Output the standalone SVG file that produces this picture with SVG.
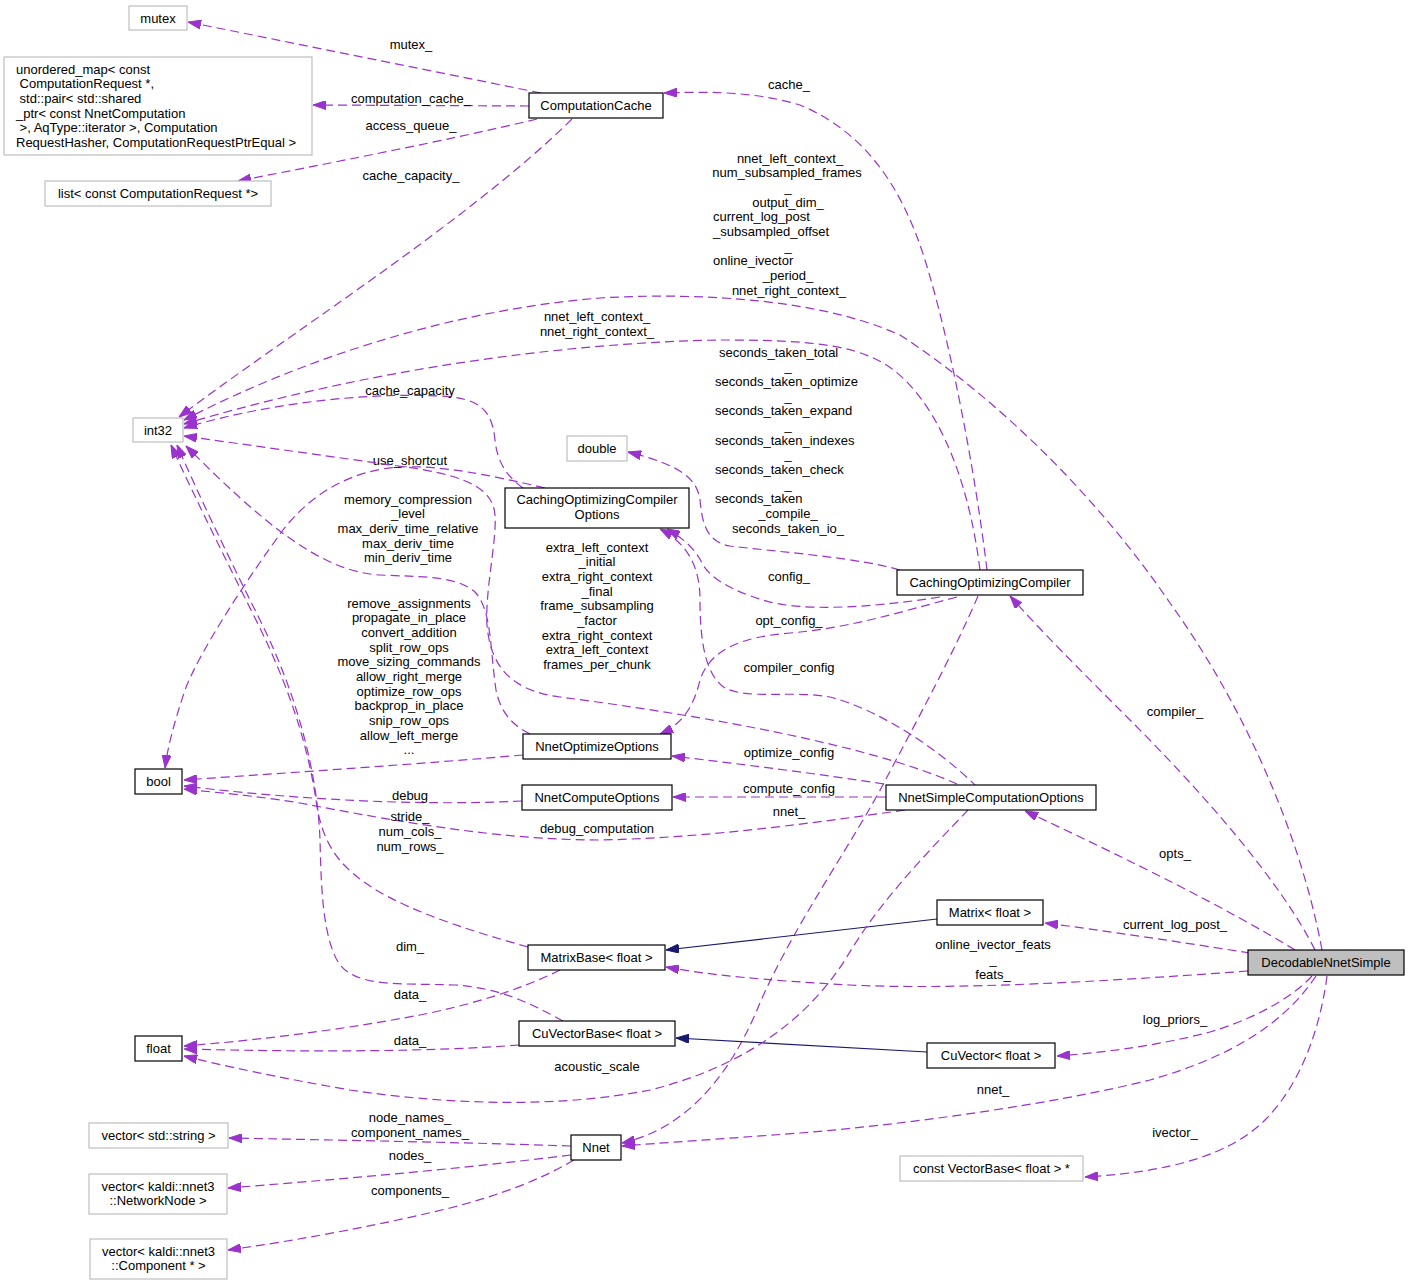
<svg xmlns="http://www.w3.org/2000/svg" width="1409" height="1286" viewBox="0 0 1409 1286">
<style>
text{font-family:"Liberation Sans",Arial,Helvetica,sans-serif;font-size:13px;fill:#000}
.c{text-anchor:middle}
.s{text-anchor:start}
.e{fill:none;stroke:#9a32cd;stroke-width:1.2;stroke-dasharray:9,5;marker-end:url(#pa)}
.i{fill:none;stroke:#191970;stroke-width:1.2;marker-end:url(#na)}
.nb{fill:#fff;stroke:#000;stroke-width:1.2}
.ng{fill:#fff;stroke:#bfbfbf;stroke-width:1.2}
.nd{fill:#bfbfbf;stroke:#000;stroke-width:1.2}
</style>
<defs>
<marker id="pa" viewBox="0 0 13 9" refX="13" refY="4.5" markerWidth="13" markerHeight="9" markerUnits="userSpaceOnUse" orient="auto"><path d="M0,0 L13,4.5 L0,9 z" fill="#9a32cd" stroke="#9a32cd"/></marker>
<marker id="na" viewBox="0 0 13 9" refX="13" refY="4.5" markerWidth="13" markerHeight="9" markerUnits="userSpaceOnUse" orient="auto"><path d="M0,0 L13,4.5 L0,9 z" fill="#191970" stroke="#191970"/></marker>
</defs>
<rect width="1409" height="1286" fill="#fff"/>
<g id="connectors">
<g><path class="e" d="M541,93 L188,22"/><text class="c" x="411" y="48.5">mutex_</text></g>
<g><path class="e" d="M529,106 L313,105"/><text class="c" x="411" y="102.5">computation_cache_</text></g>
<g><path class="e" d="M537,119 C450,140 320,165 238,181"/><text class="c" x="411" y="129.5">access_queue_</text></g>
<g><path class="e" d="M572,119 C470,220 280,340 179,417"/><text class="c" x="411" y="179.5">cache_capacity_</text></g>
<g><path class="e" d="M987,570 C975,470 950,340 925,260 C900,180 860,130 800,105 C750,90 700,92 664,93"/><text class="c" x="789" y="88.5">cache_</text></g>
<g><path class="e" d="M1322,950 C1300,830 1240,700 1170,603 C1100,500 1000,400 900,335 C800,290 650,295 600,298 C450,310 300,360 184,420"/>
<text class="c" x="790" y="162.5">nnet_left_context_</text>
<text class="c" x="787" y="177.2">num_subsampled_frames</text>
<text class="c" x="788" y="191.8">_</text>
<text class="c" x="788" y="206.5">output_dim_</text>
<text class="s" x="713" y="221.2">current_log_post</text>
<text class="s" x="713" y="235.8">_subsampled_offset</text>
<text class="c" x="788" y="250.5">_</text>
<text class="s" x="713" y="265.2">online_ivector</text>
<text class="c" x="788" y="279.8">_period_</text>
<text class="c" x="789" y="294.5">nnet_right_context_</text></g>
<g><path class="e" d="M980,570 C970,490 945,420 905,380 C870,345 820,340 720,340 C600,342 400,360 184,424"/><text class="c" x="597" y="320.5">nnet_left_context_</text><text class="c" x="597" y="335.5">nnet_right_context_</text></g>
<g><path class="e" d="M900,570 C860,558 780,552 730,546 C705,542 702,520 700,500 C697,478 680,465 628,452"/>
<text class="s" x="719" y="356.5">seconds_taken_total</text>
<text class="c" x="788" y="371.2">_</text>
<text class="s" x="715" y="385.8">seconds_taken_optimize</text>
<text class="c" x="788" y="400.5">_</text>
<text class="s" x="715" y="415.2">seconds_taken_expand</text>
<text class="c" x="788" y="429.8">_</text>
<text class="s" x="715" y="444.5">seconds_taken_indexes</text>
<text class="c" x="788" y="459.2">_</text>
<text class="s" x="715" y="473.8">seconds_taken_check</text>
<text class="c" x="788" y="488.5">_</text>
<text class="s" x="715" y="503.2">seconds_taken</text>
<text class="c" x="788" y="517.8">_compile_</text>
<text class="c" x="788" y="532.5">seconds_taken_io_</text></g>
<g><path class="e" d="M523,488 C505,475 497,460 495,440 C492,410 480,398 440,396 C360,392 260,405 184,428"/><text class="c" x="410" y="394.5">cache_capacity</text></g>
<g><path class="e" d="M545,488 C490,475 440,465 400,467 C350,470 310,495 283,530 C250,575 200,650 185,690 C175,720 168,745 165,768"/><text class="c" x="410" y="464.5">use_shortcut</text></g>
<g><path class="e" d="M957,784 C870,745 700,715 560,697 C505,690 490,660 487,625 C485,590 497,540 495,515 C493,490 470,478 420,469 L184,436"/>
<text class="c" x="597" y="551.5">extra_left_context</text>
<text class="c" x="597" y="566.2">_initial</text>
<text class="c" x="597" y="580.8">extra_right_context</text>
<text class="c" x="597" y="595.5">_final</text>
<text class="c" x="597" y="610.2">frame_subsampling</text>
<text class="c" x="597" y="624.8">_factor</text>
<text class="c" x="597" y="639.5">extra_right_context</text>
<text class="c" x="597" y="654.2">extra_left_context</text>
<text class="c" x="597" y="668.8">frames_per_chunk</text></g>
<g><path class="e" d="M530,734 C510,724 500,710 496,690 C490,650 492,610 475,592 C455,575 420,577 380,575 C320,572 260,520 186,446"/>
<text class="c" x="408" y="503.5">memory_compression</text>
<text class="c" x="408" y="518.2">_level</text>
<text class="c" x="408" y="532.8">max_deriv_time_relative</text>
<text class="c" x="408" y="547.5">max_deriv_time</text>
<text class="c" x="408" y="562.2">min_deriv_time</text></g>
<g><path class="e" d="M940,597 C870,608 800,612 763,600 C730,590 710,578 702,563 C695,548 680,536 667,529"/><text class="c" x="789" y="580.5">config_</text></g>
<g><path class="e" d="M957,597 C900,612 850,628 790,633 C740,637 710,650 700,680 C693,710 680,725 660,734"/><text class="c" x="789" y="624.5">opt_config_</text></g>
<g><path class="e" d="M977,787 C940,750 880,710 830,697 C790,690 750,700 725,688 C705,675 700,640 700,600 C700,570 690,545 660,529"/><text class="c" x="789" y="671.5">compiler_config</text></g>
<g><path class="e" d="M1315,950 C1280,880 1200,790 1130,720 C1080,670 1040,630 1010,596"/><text class="c" x="1175" y="715.5">compiler_</text></g>
<g><path class="e" d="M523,755 C420,764 300,772 184,780"/>
<text class="c" x="409" y="607.5">remove_assignments</text>
<text class="c" x="409" y="622.2">propagate_in_place</text>
<text class="c" x="409" y="636.8">convert_addition</text>
<text class="c" x="409" y="651.5">split_row_ops</text>
<text class="c" x="409" y="666.2">move_sizing_commands</text>
<text class="c" x="409" y="680.8">allow_right_merge</text>
<text class="c" x="409" y="695.5">optimize_row_ops</text>
<text class="c" x="409" y="710.2">backprop_in_place</text>
<text class="c" x="409" y="724.8">snip_row_ops</text>
<text class="c" x="409" y="739.5">allow_left_merge</text>
<text class="c" x="409" y="754.2">...</text></g>
<g><path class="e" d="M884,784 C820,774 740,764 672,756"/><text class="c" x="789" y="756.5">optimize_config</text></g>
<g><path class="e" d="M886,797 L673,797"/><text class="c" x="789" y="792.5">compute_config</text></g>
<g><path class="e" d="M522,801 C420,806 300,800 184,786"/><text class="c" x="410" y="799.5">debug</text></g>
<g><path class="e" d="M978,596 C955,650 920,715 887,777 C855,840 790,930 757,1010 C725,1085 680,1130 622,1143"/><text class="c" x="789" y="815.5">nnet_</text></g>
<g><path class="e" d="M905,810 C800,825 700,838 600,840 C500,840 400,822 300,803 C250,795 210,792 184,789"/><text class="c" x="597" y="832.5">debug_computation</text></g>
<g><path class="e" d="M528,947 C460,928 390,905 355,875 C330,855 320,830 316,800 C310,760 296,700 256,620 C226,560 196,500 171,445"/><text class="c" x="410" y="820.5">stride_</text><text class="c" x="410" y="835.5">num_cols_</text><text class="c" x="410" y="850.5">num_rows_</text></g>
<g><path class="e" d="M563,1021 C530,1003 500,988 455,985 C400,983 355,988 338,962 C322,935 321,880 320,840 C318,780 300,700 260,620 C230,560 201,500 177,445"/><text class="c" x="410" y="950.5">dim_</text></g>
<g><path class="e" d="M1295,950 C1230,910 1130,860 1025,811"/><text class="c" x="1175" y="857.5">opts_</text></g>
<g><path class="e" d="M1250,953 C1180,942 1100,930 1045,923"/><text class="c" x="1175" y="928.5">current_log_post_</text></g>
<g><path class="e" d="M1248,971 C1100,982 950,990 850,985 C760,980 710,975 666,967"/><text class="c" x="993" y="948.5">online_ivector_feats</text><text class="c" x="993" y="963.5">_</text><text class="c" x="993" y="978.5">feats_</text></g>
<g><path class="i" d="M937,919 L666,950"/></g>
<g><path class="e" d="M560,970 C520,990 470,1005 420,1015 C340,1030 260,1040 184,1046"/><text class="c" x="410" y="998.5">data_</text></g>
<g><path class="e" d="M519,1045 C430,1052 300,1052 184,1049"/><text class="c" x="410" y="1044.5">data_</text></g>
<g><path class="i" d="M927,1052 L676,1038"/></g>
<g><path class="e" d="M1312,976 C1290,1000 1250,1020 1210,1032 C1160,1045 1110,1052 1057,1056"/><text class="c" x="1175" y="1023.5">log_priors_</text></g>
<g><path class="e" d="M968,810 C930,850 880,900 845,960 C800,1030 730,1070 650,1090 C560,1108 450,1105 350,1090 C280,1078 220,1065 184,1056"/><text class="c" x="597" y="1070.5">acoustic_scale</text></g>
<g><path class="e" d="M1316,976 C1280,1030 1220,1060 1150,1080 C1050,1105 900,1125 800,1133 C720,1139 660,1143 622,1146"/><text class="c" x="993" y="1093.5">nnet_</text></g>
<g><path class="e" d="M1327,976 C1320,1030 1300,1085 1265,1120 C1230,1155 1170,1172 1085,1177"/><text class="c" x="1175" y="1136.5">ivector_</text></g>
<g><path class="e" d="M571,1146 C450,1142 330,1140 229,1138"/><text class="c" x="410" y="1121.5">node_names_</text><text class="c" x="410" y="1136.5">component_names_</text></g>
<g><path class="e" d="M571,1155 C450,1170 330,1180 228,1188"/><text class="c" x="410" y="1159.5">nodes_</text></g>
<g><path class="e" d="M574,1160 C540,1180 500,1195 450,1208 C380,1225 300,1240 228,1250"/><text class="c" x="410" y="1194.5">components_</text></g>
</g>
<g id="n_mutex"><rect class="ng" x="129" y="6" width="58" height="24"/><text class="c" x="158" y="22.5">mutex</text></g>
<g id="n_umap"><rect class="ng" x="4" y="57" width="308" height="98"/>
<text class="s" x="16" y="73.5">unordered_map&lt; const</text>
<text class="s" x="19.6" y="88.2">ComputationRequest *,</text>
<text class="s" x="19.6" y="102.8">std::pair&lt; std::shared</text>
<text class="s" x="16" y="117.5">_ptr&lt; const NnetComputation</text>
<text class="s" x="19.6" y="132.2">&gt;, AqType::iterator &gt;, Computation</text>
<text class="s" x="16" y="146.8">RequestHasher, ComputationRequestPtrEqual &gt;</text></g>
<g id="n_list"><rect class="ng" x="45" y="181" width="226" height="25"/><text class="c" x="158" y="198">list&lt; const ComputationRequest *&gt;</text></g>
<g id="n_cache"><rect class="nb" x="529" y="93" width="134" height="25"/><text class="c" x="596" y="110">ComputationCache</text></g>
<g id="n_int32"><rect class="ng" x="133" y="418" width="50" height="24"/><text class="c" x="158" y="434.5">int32</text></g>
<g id="n_double"><rect class="ng" x="567" y="436" width="60" height="25"/><text class="c" x="597" y="453">double</text></g>
<g id="n_coco"><rect class="nb" x="505" y="488" width="184" height="40"/><text class="c" x="597" y="503.5">CachingOptimizingCompiler</text><text class="c" x="597" y="518.5">Options</text></g>
<g id="n_coc"><rect class="nb" x="897" y="570" width="186" height="25"/><text class="c" x="990" y="587">CachingOptimizingCompiler</text></g>
<g id="n_bool"><rect class="nb" x="135" y="769" width="47" height="25"/><text class="c" x="158.5" y="786">bool</text></g>
<g id="n_noo"><rect class="nb" x="523" y="734" width="148" height="25"/><text class="c" x="597" y="751">NnetOptimizeOptions</text></g>
<g id="n_nco"><rect class="nb" x="522" y="785" width="150" height="25"/><text class="c" x="597" y="802">NnetComputeOptions</text></g>
<g id="n_nsco"><rect class="nb" x="886" y="785" width="210" height="25"/><text class="c" x="991" y="802">NnetSimpleComputationOptions</text></g>
<g id="n_matrix"><rect class="nb" x="937" y="900" width="106" height="25"/><text class="c" x="990" y="917">Matrix&lt; float &gt;</text></g>
<g id="n_matrixbase"><rect class="nb" x="528" y="945" width="137" height="25"/><text class="c" x="596.5" y="962">MatrixBase&lt; float &gt;</text></g>
<g id="n_decodable"><rect class="nd" x="1248" y="950" width="156" height="25"/><text class="c" x="1326" y="967">DecodableNnetSimple</text></g>
<g id="n_float"><rect class="nb" x="135" y="1036" width="47" height="25"/><text class="c" x="158.5" y="1053">float</text></g>
<g id="n_cuvb"><rect class="nb" x="519" y="1021" width="156" height="25"/><text class="c" x="597" y="1038">CuVectorBase&lt; float &gt;</text></g>
<g id="n_cuv"><rect class="nb" x="927" y="1043" width="128" height="25"/><text class="c" x="991" y="1060">CuVector&lt; float &gt;</text></g>
<g id="n_vstr"><rect class="ng" x="89" y="1123" width="139" height="25"/><text class="c" x="158.5" y="1140">vector&lt; std::string &gt;</text></g>
<g id="n_nnet"><rect class="nb" x="571" y="1135" width="50" height="25"/><text class="c" x="596" y="1152">Nnet</text></g>
<g id="n_vnode"><rect class="ng" x="89" y="1174" width="138" height="40"/><text class="c" x="158" y="1190.5">vector&lt; kaldi::nnet3</text><text class="c" x="158" y="1205.2">::NetworkNode &gt;</text></g>
<g id="n_vcomp"><rect class="ng" x="90" y="1239" width="137" height="40"/><text class="c" x="158.5" y="1255.5">vector&lt; kaldi::nnet3</text><text class="c" x="158.5" y="1270.2">::Component * &gt;</text></g>
<g id="n_cvb"><rect class="ng" x="900" y="1156" width="183" height="25"/><text class="c" x="991.5" y="1173">const VectorBase&lt; float &gt; *</text></g>
</svg>
